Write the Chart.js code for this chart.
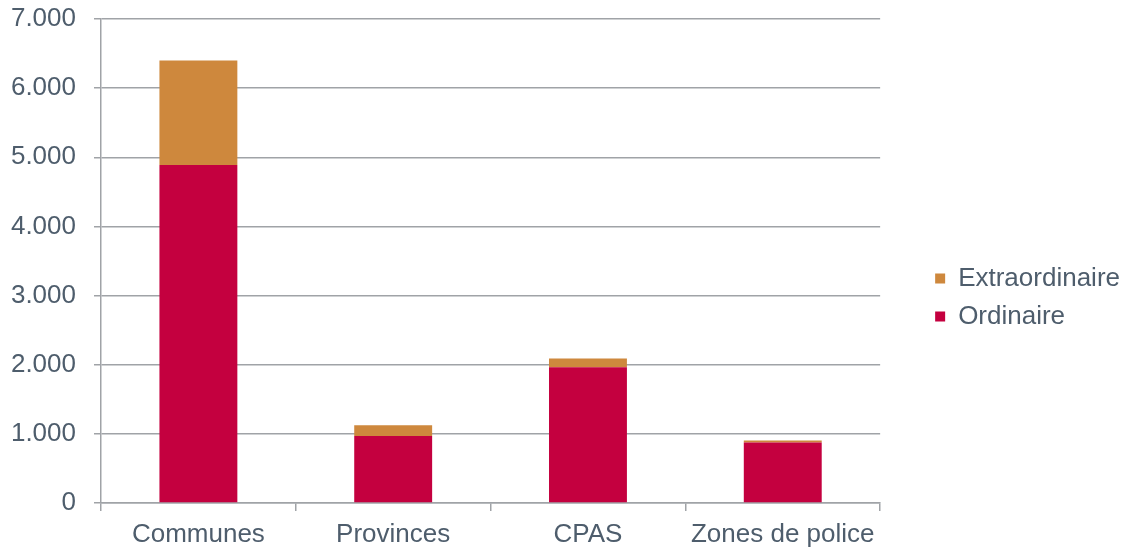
<!DOCTYPE html>
<html>
<head>
<meta charset="utf-8">
<script src="https://cdn.jsdelivr.net/npm/chart.js@4/dist/chart.umd.min.js"></script>
<style>
	html, body { margin: 0; padding: 0; background: #ffffff; }
	#wrap { width: 1138px; height: 550px; position: relative; }
</style>
</head>
<body>
<div id="wrap"><canvas id="barChart"></canvas></div>
<script>
// chart values
const categories = ["Communes", "Provinces", "CPAS", "Zones de police"];
const ordinaire = [4890, 970, 1965, 875];
const extraordinaire = [1510, 155, 125, 30];
const yTicks = [0, 1000, 2000, 3000, 4000, 5000, 6000, 7000];

const textColor = "#4e5d6c";
const lineColor = "#a0a3a7";
const fontFamily = "'Liberation Sans', Arial, sans-serif";

// move the legend into the right padding, next to the plot
const legendShift = {
	id: "legendShift",
	afterLayout(chart) {
		const lg = chart.legend;
		if (!lg) return;
		const dx = 43, dy = 13;
		lg.left += dx; lg.right += dx;
		lg.top += dy; lg.bottom += dy;
	},
};

document.addEventListener("DOMContentLoaded", function () {
	new Chart("barChart", {
		type: "bar",
		data: {
			labels: categories,
			datasets: [
				{
					label: "Ordinaire",
					data: ordinaire,
					backgroundColor: "#c4003f",
					barPercentage: 0.4,
					categoryPercentage: 1,
				},
				{
					label: "Extraordinaire",
					data: extraordinaire,
					backgroundColor: "#ce883d",
					barPercentage: 0.4,
					categoryPercentage: 1,
				},
			],
		},
		options: {
			responsive: true,
			maintainAspectRatio: false,
			animation: false,
			layout: {
				padding: { left: 0, top: 19, right: 51, bottom: 0 },
			},
			plugins: {
				legend: {
					position: "right",
					reverse: true,
					labels: {
						color: textColor,
						boxWidth: 10,
						boxHeight: 10,
						padding: 12,
						font: { family: fontFamily, size: 26 },
					},
				},
				tooltip: { enabled: false },
			},
			scales: {
				x: {
					stacked: true,
					afterFit: (scale) => {
						scale.height = 47;
						scale.paddingLeft = 0;
						scale.paddingRight = 0;
					},
					grid: {
						offset: true,
						drawOnChartArea: false,
						tickLength: 8,
						color: lineColor,
						lineWidth: 1.5,
					},
					border: { color: lineColor, width: 1.5 },
					ticks: {
						color: textColor,
						padding: 8,
						font: { family: fontFamily, size: 26 },
					},
				},
				y: {
					stacked: true,
					min: 0,
					max: 7000,
					afterBuildTicks: (scale) => {
						scale.ticks = yTicks.map((v) => ({ value: v }));
					},
					afterFit: (scale) => {
						scale.width = 101;
						scale.paddingTop = 0;
						scale.paddingBottom = 0;
					},
					grid: {
						color: lineColor,
						lineWidth: 1.5,
						tickLength: 7,
					},
					border: { color: lineColor, width: 1.5 },
					ticks: {
						color: textColor,
						padding: 18,
						font: { family: fontFamily, size: 26 },
						callback: (v) => String(v).replace(/\B(?=(\d{3})+(?!\d))/g, "."),
					},
				},
			},
		},
		plugins: [legendShift],
	});
});
</script>
</body>
</html>
